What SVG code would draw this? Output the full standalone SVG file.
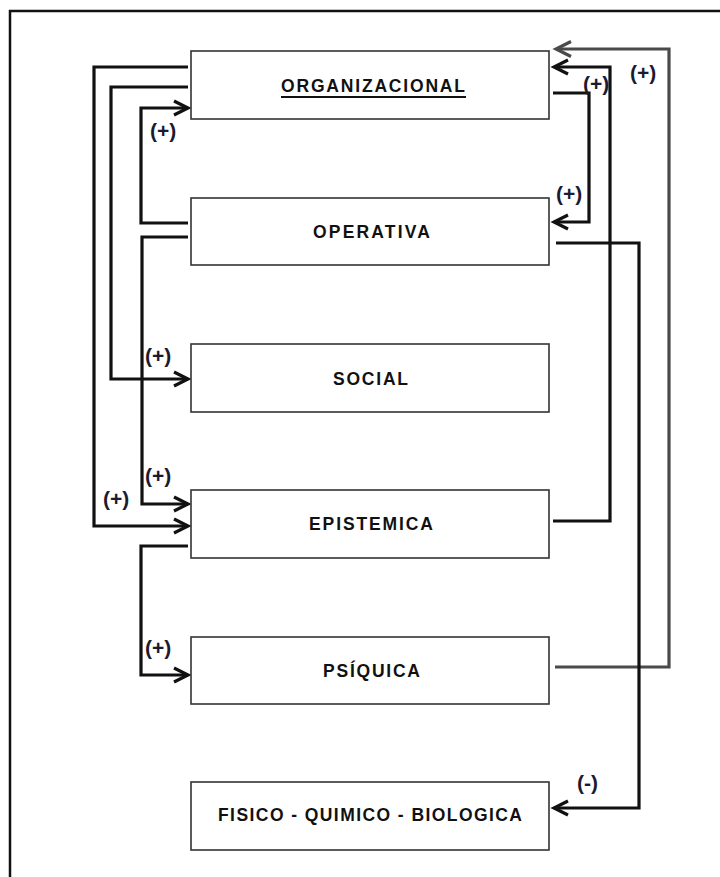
<svg xmlns="http://www.w3.org/2000/svg" width="720" height="877" viewBox="0 0 720 877">
<style>
.box{fill:#fff;stroke:#333;stroke-width:1.6}
.t{font-family:"Liberation Sans",Arial,sans-serif;font-weight:bold;font-size:17.5px;fill:#111;text-anchor:start}
.lbl{font-family:"Liberation Sans",Arial,sans-serif;font-weight:bold;font-size:21px;fill:#1a1a33}
.c{fill:none;stroke:#111;stroke-width:3.2;stroke-linejoin:miter}
.g{fill:none;stroke:#4a4a4a;stroke-width:3.2}
</style>
<defs>
<marker id="ah" markerUnits="userSpaceOnUse" markerWidth="20" markerHeight="20" viewBox="-16 -10 20 20" refX="0" refY="0" orient="auto">
<path d="M-14,-7 L0,0 L-14,7" fill="none" stroke="#111" stroke-width="3.2"/>
</marker>
<marker id="ahg" markerUnits="userSpaceOnUse" markerWidth="20" markerHeight="20" viewBox="-16 -10 20 20" refX="0" refY="0" orient="auto">
<path d="M-15,-7.5 L0,0 L-15,7.5" fill="none" stroke="#4a4a4a" stroke-width="3.2"/>
</marker>
</defs>
<rect x="10" y="11" width="730" height="890" fill="none" stroke="#111" stroke-width="2.5"/>
<g id="connectors">
<path class="c" d="M188,67 H94 V526 H188" marker-end="url(#ah)"/>
<path class="c" d="M188,87 H111 V379 H188" marker-end="url(#ah)"/>
<path class="c" d="M188,223 H141 V108 H188" marker-end="url(#ah)"/>
<path class="c" d="M188,237 H142 V504 H188" marker-end="url(#ah)"/>
<path class="c" d="M188,546 H141 V675 H188" marker-end="url(#ah)"/>
<path class="g" d="M555,667 H669 V49 H556" marker-end="url(#ahg)"/>
<path class="c" d="M553,521 H610 V67 H554" marker-end="url(#ah)"/>
<path class="c" d="M553,93 H589 V222 H554" marker-end="url(#ah)"/>
<path class="c" d="M556,243 H639 V808 H554" marker-end="url(#ah)"/>
<text class="lbl" x="150" y="138">(+)</text>
<text class="lbl" x="583" y="91">(+)</text>
<text class="lbl" x="630" y="80">(+)</text>
<text class="lbl" x="556" y="201">(+)</text>
<text class="lbl" x="145" y="363">(+)</text>
<text class="lbl" x="145" y="483">(+)</text>
<text class="lbl" x="103" y="506">(+)</text>
<text class="lbl" x="145" y="655">(+)</text>
<text class="lbl" x="577" y="790">(-)</text>
</g>
<g id="organizacional">
<rect class="box" x="191" y="51" width="358" height="68"/>
<text class="t" x="281" y="92" textLength="184" lengthAdjust="spacing">ORGANIZACIONAL</text>
<line x1="281" y1="97" x2="466" y2="97" stroke="#111" stroke-width="1.8"/>
</g>
<g id="operativa">
<rect class="box" x="191" y="198" width="358" height="67"/>
<text class="t" x="313" y="238" textLength="117" lengthAdjust="spacing">OPERATIVA</text>
</g>
<g id="social">
<rect class="box" x="191" y="344" width="358" height="68"/>
<text class="t" x="333" y="385" textLength="75" lengthAdjust="spacing">SOCIAL</text>
</g>
<g id="epistemica">
<rect class="box" x="191" y="490" width="358" height="68"/>
<text class="t" x="309" y="530" textLength="124" lengthAdjust="spacing">EPISTEMICA</text>
</g>
<g id="psiquica">
<rect class="box" x="191" y="637" width="358" height="67"/>
<text class="t" x="323" y="676.5" textLength="97" lengthAdjust="spacing">PSÍQUICA</text>
</g>
<g id="fisico">
<rect class="box" x="191" y="782" width="358" height="68"/>
<text class="t" x="218" y="821" textLength="304" lengthAdjust="spacing">FISICO - QUIMICO - BIOLOGICA</text>
</g>
</svg>
